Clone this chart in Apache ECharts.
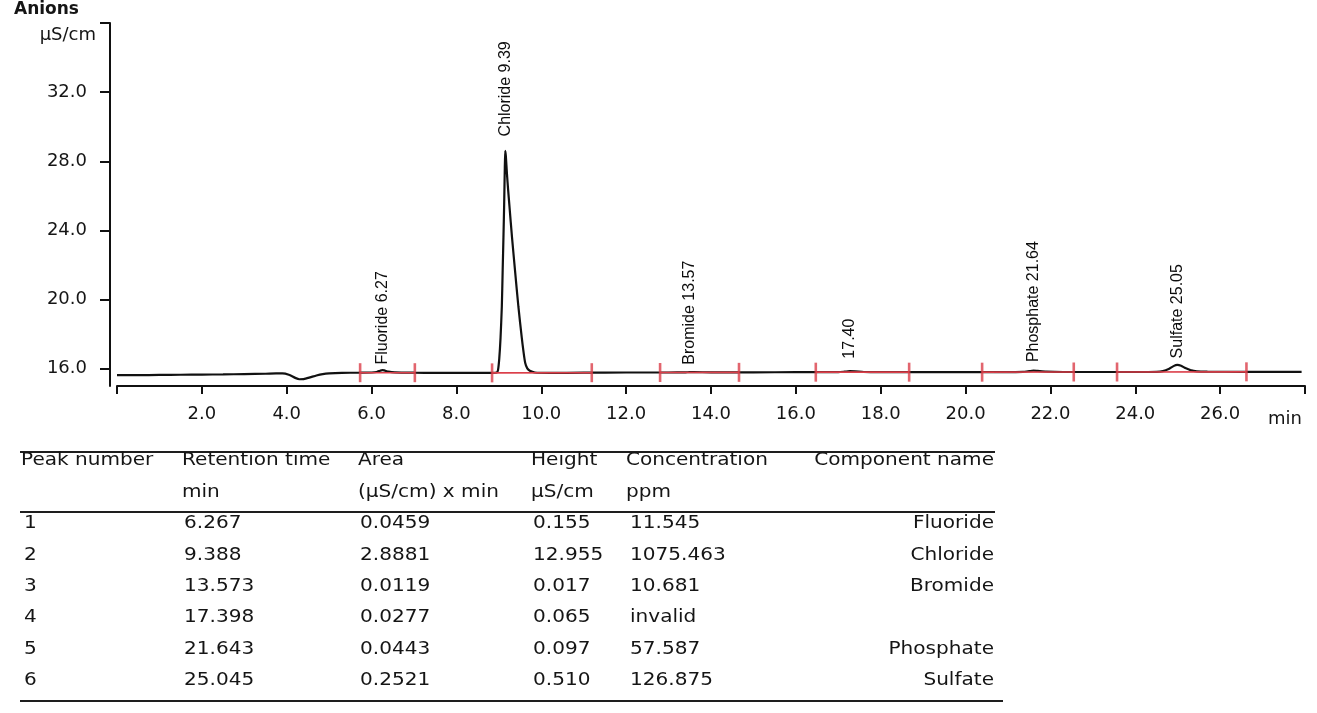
<!DOCTYPE html>
<html>
<head>
<meta charset="utf-8">
<script src="https://cdn.jsdelivr.net/npm/echarts@6/dist/echarts.min.js"></script>
<style>
html,body{margin:0;padding:0;background:#ffffff;}
#chart{width:1317px;height:713px;}
</style>
</head>
<body>
<div id="chart"></div>
<script>
// ---------- DATA ----------
const timeMin = [0, 0.5, 1.0, 1.5, 2.0, 2.5, 3.0, 3.5, 3.75, 3.9, 4.05, 4.2, 4.3, 4.4, 4.55, 4.7, 4.85, 5.0, 5.3, 5.7,
  6.0, 6.12, 6.2, 6.25, 6.3, 6.4, 6.55, 7.0, 7.5, 8.0, 8.5, 8.84, 8.95, 8.98, 9.01, 9.04, 9.07, 9.09, 9.11, 9.125,
  9.14, 9.15, 9.165, 9.19, 9.22, 9.25, 9.31, 9.38, 9.46, 9.54, 9.58, 9.62, 9.67, 9.73, 9.85, 10.2, 11.0, 12.0, 13.0, 13.4,
  13.5, 13.6, 14.0, 15.0, 16.0, 17.0, 17.15, 17.27, 17.4, 17.6, 18.0, 19.0, 20.0, 21.0, 21.35, 21.5, 21.6, 21.7, 21.9, 22.3,
  23.0, 24.0, 24.5, 24.65, 24.8, 24.9, 24.99, 25.08, 25.18, 25.3, 25.45, 25.7, 26.5, 27.2, 27.92];
const conductivity = [15.63, 15.63, 15.64, 15.65, 15.66, 15.67, 15.69, 15.71, 15.73, 15.73, 15.65, 15.47, 15.39, 15.40, 15.50, 15.61, 15.69, 15.73, 15.76, 15.77,
  15.78, 15.81, 15.88, 15.92, 15.90, 15.83, 15.79, 15.77, 15.76, 15.76, 15.76, 15.76, 15.78, 15.92, 16.6, 17.8, 19.6, 21.7, 23.8, 25.5,
  27.6, 28.6, 28.3, 27.3, 26.3, 25.4, 23.6, 21.7, 19.6, 17.8, 17.0, 16.35, 16.02, 15.88, 15.78, 15.76, 15.77, 15.78, 15.78, 15.79,
  15.80, 15.80, 15.79, 15.79, 15.80, 15.80, 15.83, 15.86, 15.85, 15.81, 15.80, 15.80, 15.80, 15.80, 15.82, 15.86, 15.89, 15.87, 15.83, 15.81,
  15.81, 15.81, 15.82, 15.86, 16.00, 16.15, 16.22, 16.17, 16.04, 15.92, 15.85, 15.83, 15.82, 15.82, 15.82];

const peakLabels = ['Fluoride 6.27', 'Chloride 9.39', 'Bromide 13.57', '17.40', 'Phosphate 21.64', 'Sulfate 25.05'];
const peakApexTime = [6.25, 9.15, 13.5, 17.27, 21.6, 24.99];
const peakApexValue = [15.92, 28.6, 15.80, 15.86, 15.89, 16.22];

const integrationStart = [5.73, 8.84, 12.80, 16.47, 20.39, 23.57];
const integrationEnd = [7.02, 11.19, 14.66, 18.67, 22.55, 26.62];
const integrationStartLevel = [15.77, 15.76, 15.78, 15.80, 15.80, 15.81];
const integrationEndLevel = [15.77, 15.77, 15.79, 15.80, 15.81, 15.82];

const xTickLabels = [2, 4, 6, 8, 10, 12, 14, 16, 18, 20, 22, 24, 26];
const yTickLabels = [16, 20, 24, 28, 32];
const yTickMarks = [16, 20, 24, 28, 32, 36];

const tableHeader1 = ['Peak number', 'Retention time', 'Area', 'Height', 'Concentration', 'Component name'];
const tableHeader2 = ['', 'min', '(µS/cm) x min', 'µS/cm', 'ppm', ''];
const peakNumbers = ['1', '2', '3', '4', '5', '6'];
const retentionTimes = ['6.267', '9.388', '13.573', '17.398', '21.643', '25.045'];
const areas = ['0.0459', '2.8881', '0.0119', '0.0277', '0.0443', '0.2521'];
const heights = ['0.155', '12.955', '0.017', '0.065', '0.097', '0.510'];
const concentrations = ['11.545', '1075.463', '10.681', 'invalid', '57.587', '126.875'];
const componentNames = ['Fluoride', 'Chloride', 'Bromide', '', 'Phosphate', 'Sulfate'];

// ---------- STYLE ----------
const FONT = "'DejaVu Sans', 'Liberation Sans', sans-serif";
const LABEL_FONT = "'Liberation Sans', Arial, sans-serif";
const INK = '#151515';
const RED = '#db3f4a';
const LABEL_GAP = [5, 14, 7, 12, 8, 6];

// table layout (pixels)
const TBL = {
  headLeft: [21, 182, 358, 531, 626],
  cellLeft: [24, 184, 360, 533, 630],
  nameRight: 994,
  head1Y: 461, head2Y: 493, row0Y: 524, rowStep: 31.3,
  rules: [[20, 995, 452], [20, 995, 512], [20, 1003, 701]],
  fontSize: 17, stretch: 1.18
};

function txt(x, y, s, align) {
  return {
    type: 'text', x: x, y: y, scaleX: TBL.stretch, silent: true,
    style: {
      text: s, fill: INK, fontFamily: FONT, fontSize: TBL.fontSize,
      align: align || 'left', verticalAlign: 'middle',
      textAlign: align || 'left', textVerticalAlign: 'middle'
    }
  };
}

const tableElements = [];
TBL.rules.forEach(r => tableElements.push({
  type: 'line', silent: true,
  shape: {x1: r[0], y1: r[2], x2: r[1], y2: r[2]},
  style: {stroke: '#1e1e1e', lineWidth: 2}
}));
tableHeader1.forEach((h, i) => {
  if (i < 5) tableElements.push(txt(TBL.headLeft[i], TBL.head1Y, h));
  else tableElements.push(txt(TBL.nameRight, TBL.head1Y, h, 'right'));
});
tableHeader2.forEach((h, i) => {
  if (h && i < 5) tableElements.push(txt(TBL.headLeft[i], TBL.head2Y, h));
});
const cols = [peakNumbers, retentionTimes, areas, heights, concentrations];
peakNumbers.forEach((_, r) => {
  const y = TBL.row0Y + r * TBL.rowStep;
  cols.forEach((col, c) => tableElements.push(txt(TBL.cellLeft[c], y, col[r])));
  if (componentNames[r]) tableElements.push(txt(TBL.nameRight, y, componentNames[r], 'right'));
});

// ---------- SERIES ----------
const series = [];
series.push({
  type: 'line', name: 'Anions',
  data: timeMin.map((t, i) => [t, conductivity[i]]),
  symbol: 'none', showSymbol: false, smooth: 0.2,
  lineStyle: {color: '#111111', width: 2.2},
  z: 2, silent: true
});
integrationStart.forEach((s, i) => {
  series.push({
    type: 'line',
    data: [[s, integrationStartLevel[i]], [integrationEnd[i], integrationEndLevel[i]]],
    symbol: 'none', showSymbol: false,
    lineStyle: {color: RED, width: 1.6},
    z: 3, silent: true
  });
});
const tickData = [];
integrationStart.forEach((s, i) => {
  tickData.push([s, integrationStartLevel[i]]);
  tickData.push([integrationEnd[i], integrationEndLevel[i]]);
});
series.push({
  type: 'scatter', data: tickData, symbol: 'rect', symbolSize: [2.6, 19],
  itemStyle: {color: RED}, z: 4, silent: true
});
series.push({
  type: 'scatter',
  data: peakApexTime.map((t, i) => ({value: [t, peakApexValue[i]], label: {distance: LABEL_GAP[i]}})),
  symbol: 'circle', symbolSize: 1,
  itemStyle: {color: 'rgba(0,0,0,0)'},
  label: {
    show: true, position: 'top', rotate: 90, align: 'left', verticalAlign: 'middle',
    formatter: p => peakLabels[p.dataIndex],
    fontFamily: LABEL_FONT, fontSize: 16, color: '#0d0d0d', opacity: 1
  },
  z: 5, silent: true
});

const option = {
  animation: false,
  backgroundColor: '#ffffff',
  title: {
    text: 'Anions', left: 14, top: 1, padding: 0,
    textStyle: {fontFamily: FONT, fontSize: 17, fontWeight: 'bold', color: INK}
  },
  grid: {left: 117, right: 12, top: 23, bottom: 327, outerBoundsMode: 'none'},
  xAxis: {
    type: 'value', min: 0, max: 28, interval: 2,
    name: 'min', nameLocation: 'end', nameGap: -37, nameMoveOverlap: false,
    nameTextStyle: {fontFamily: FONT, fontSize: 18, color: INK, align: 'left', verticalAlign: 'top', padding: [24, 0, 0, 0]},
    axisLine: {show: true, onZero: false, lineStyle: {color: '#111111', width: 2}},
    axisTick: {show: true, inside: false, length: 8, lineStyle: {color: '#111111', width: 2}},
    axisLabel: {
      customValues: xTickLabels, margin: 19,
      formatter: v => v.toFixed(1),
      fontFamily: FONT, fontSize: 18, color: INK
    },
    splitLine: {show: false}
  },
  yAxis: {
    type: 'value', min: 15, max: 36, offset: 7,
    name: 'µS/cm', nameLocation: 'end', nameGap: -12, nameMoveOverlap: false,
    nameTextStyle: {fontFamily: FONT, fontSize: 18, color: INK, align: 'right', verticalAlign: 'middle', padding: [0, 14, 0, 0]},
    axisLine: {show: true, onZero: false, lineStyle: {color: '#111111', width: 2}},
    axisTick: {show: true, inside: false, length: 10, customValues: yTickMarks, lineStyle: {color: '#111111', width: 2}},
    axisLabel: {
      customValues: yTickLabels, margin: 23,
      formatter: v => v.toFixed(1),
      fontFamily: FONT, fontSize: 18, color: INK
    },
    splitLine: {show: false}
  },
  series: series,
  graphic: {elements: tableElements}
};

const chart = echarts.init(document.getElementById('chart'));
chart.setOption(option);
</script>
</body>
</html>
